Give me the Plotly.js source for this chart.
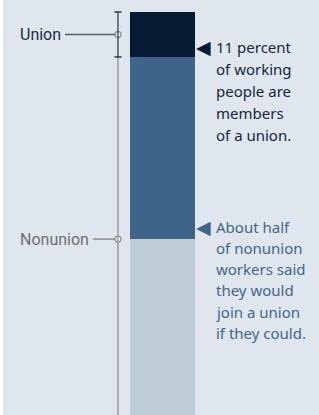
<!DOCTYPE html>
<html>
<head>
<meta charset="utf-8">
<script src="https://cdn.plot.ly/plotly-3.0.1.min.js"></script>
<style>html,body{margin:0;padding:0;background:#fff;}#chart{width:319px;height:415px;}</style>
</head>
<body>
<div id="chart"></div>
<script>
// Data (percent of working people)
const categories = ['Working people'];
const unionShare = [11];
const nonunionWouldJoin = [44.5];
const nonunionOther = [44.5];
const groupLabels = ['Union', 'Nonunion'];
const unionNote = ['11 percent', 'of working', 'people are', 'members', 'of a union.'];
const nonunionNote = ['About half', 'of nonunion', 'workers said', 'they would', 'join a union', 'if they could.'];

const total = unionShare[0] + nonunionWouldJoin[0] + nonunionOther[0];
const unionMid = unionShare[0] / 2;
const nonunionMid = unionShare[0] + (total - unionShare[0]) / 2;
const unionEnd = unionShare[0];

const axX = -0.685;
const traces = [
  {type:'bar', x:[0], y:unionShare, width:1, marker:{color:'#061b33'}, hoverinfo:'skip', name:'Union'},
  {type:'bar', x:[0], y:nonunionWouldJoin, width:1, marker:{color:'#3f6489'}, hoverinfo:'skip', name:'Would join'},
  {type:'bar', x:[0], y:nonunionOther, width:1, marker:{color:'#bfcdd9'}, hoverinfo:'skip', name:'Other'},
  {type:'scatter', mode:'markers', x:[axX, axX], y:[unionMid, nonunionMid],
   marker:{symbol:'circle', size:6, color:'#ffffff', line:{color:'#8a8f95', width:1.3}}, hoverinfo:'skip', cliponaxis:false}
];

const shapes = [
  {type:'line', xref:'x', yref:'y', x0:axX, x1:axX, y0:unionEnd, y1:total, line:{color:'#9a9a9a', width:1.5}},
  {type:'line', xref:'x', yref:'y', x0:axX, x1:axX, y0:0, y1:unionEnd, line:{color:'#4a5663', width:1.5}},
  {type:'line', xref:'x', yref:'y', x0:axX-0.055, x1:axX+0.055, y0:0, y1:0, line:{color:'#2c3a4a', width:1.5}},
  {type:'line', xref:'x', yref:'y', x0:axX-0.055, x1:axX+0.055, y0:unionEnd, y1:unionEnd, line:{color:'#2c3a4a', width:1.5}},
  {type:'line', xref:'x', yref:'y', x0:-1.5, x1:axX-0.04, y0:unionMid, y1:unionMid, line:{color:'#55606b', width:1.3}},
  {type:'line', xref:'x', yref:'y', x0:-1.07, x1:axX-0.04, y0:nonunionMid, y1:nonunionMid, line:{color:'#808080', width:1.3}}
];

const annotations = [
  {x:-1.53, y:unionMid, xref:'x', yref:'y', text:groupLabels[0], showarrow:false, xanchor:'right', yanchor:'middle',
   font:{family:'Roboto', size:16, color:'#1d2c44'}},
  {x:-1.1, y:nonunionMid, xref:'x', yref:'y', text:groupLabels[1], showarrow:false, xanchor:'right', yanchor:'middle',
   font:{family:'Roboto', size:16, color:'#6f6f6f'}},
  {x:0.77, y:8.6, xref:'x', yref:'y', text:'◀', showarrow:false, xanchor:'right', yanchor:'middle',
   font:{family:'DejaVu Sans', size:19, color:'#061b33'}},
  {x:0.77, y:52.5, xref:'x', yref:'y', text:'◀', showarrow:false, xanchor:'right', yanchor:'middle',
   font:{family:'DejaVu Sans', size:19, color:'#3f6489'}}
];
unionNote.forEach((t, i) => annotations.push({
  x:0.79, y:8.6, xref:'x', yref:'y', yshift:-22*i, text:t, showarrow:false, xanchor:'left', yanchor:'middle',
  font:{family:'Noto Sans', size:15, color:'#16263c'}
}));
nonunionNote.forEach((t, i) => annotations.push({
  x:0.79, y:52.5, xref:'x', yref:'y', yshift:-21.2*i, text:t, showarrow:false, xanchor:'left', yanchor:'middle',
  font:{family:'Noto Sans', size:15, color:'#42658c'}
}));

const layout = {
  width:319, height:415,
  margin:{l:3, r:0, t:0, b:0, pad:0},
  paper_bgcolor:'#ffffff', plot_bgcolor:'#dfe6ed',
  barmode:'stack', showlegend:false,
  xaxis:{range:[-2.454, 2.408], visible:false, fixedrange:true},
  yaxis:{range:[98.5, -2.93], autorange:false, visible:false, fixedrange:true},
  shapes:shapes, annotations:annotations
};
Plotly.newPlot('chart', traces, layout, {staticPlot:true, displayModeBar:false});
</script>
</body>
</html>
